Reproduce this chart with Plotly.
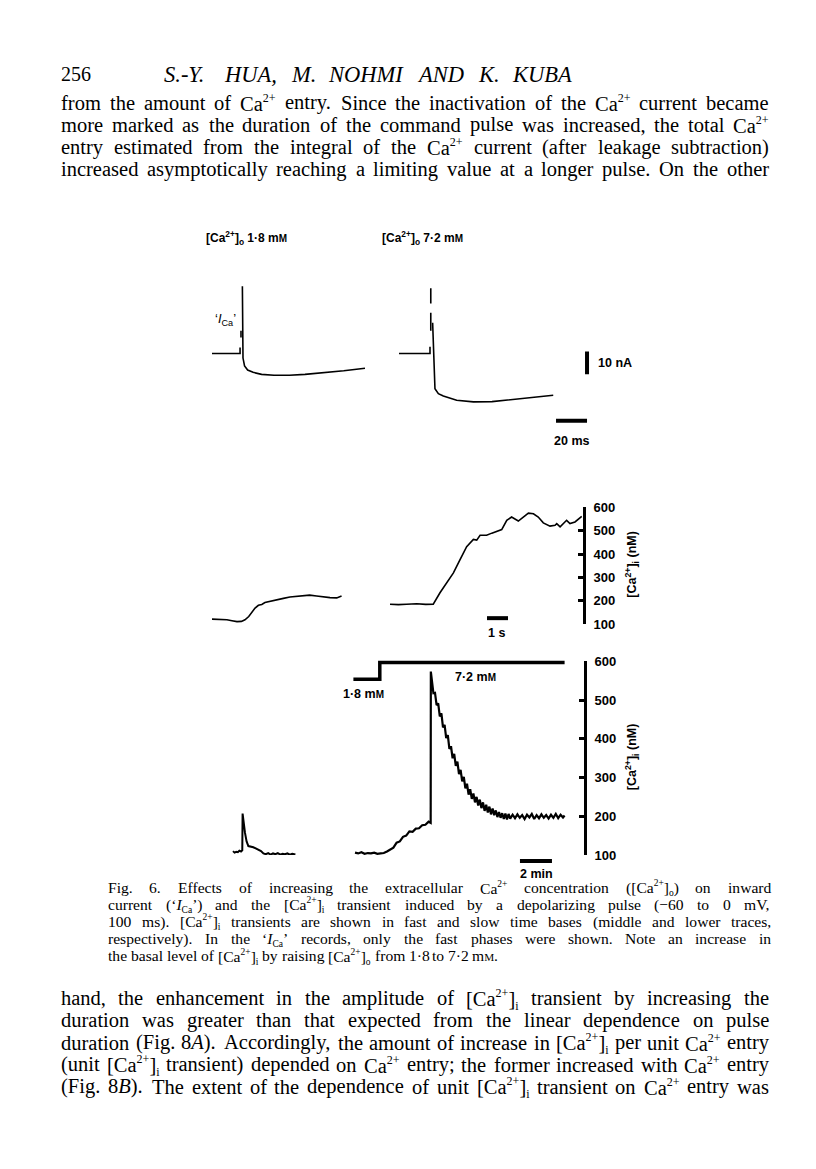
import plotly.graph_objects as go

W, H = 816, 1169
SERIF = "Liberation Serif"
SANS = "Liberation Sans"

# ---------------- data ----------------
# top row: 'I_Ca' fast records, time (ms) vs current (nA); None = pen lift
ica_low_t = [0, 18.1, 18.1, None, 18.7, 18.7, None, 19.6, 19.7, 20.0, 21.0, 23.0, 26.5, 32, 40, 50, 60, 72, 85, 98.7]
ica_low_v = [0, 0, 2.6, None, 7, 10, None, 29.6, 10, -2, -5.5, -7.3, -8.3, -9.2, -9.6, -9.6, -9.2, -8.5, -7.6, -6.5]
ica_high_t = [0, 20.0, 20.0, None, 20.5, 20.5, None, 20.5, 20.5, None, 21.7, 23.2, 25.4, 28.6, 37.2, 48, 60, 69.5, 80.2, 99.5]
ica_high_v = [0, 0, 3, None, 28.7, 22, None, 18, 10, None, 13.5, -15.5, -17.7, -18.7, -20.6, -21.3, -21.2, -20.6, -19.9, -18.4]

# middle row: [Ca2+]i on the fast time base, time (s) vs nM
fast_low_t = [0, 0.35, 0.71, 0.95, 1.19, 1.4, 1.57, 1.75, 1.9, 2.05, 2.21, 2.37, 2.52, 2.8, 3.08, 3.4,
              3.71, 4.0, 4.35, 4.65, 4.98, 5.3, 5.62, 5.94, 6.17]
fast_low_v = [121, 120, 118, 114, 110, 111, 118, 132, 149, 168, 180, 184, 192, 198, 206, 210,
              216, 219, 223, 224, 220, 216, 213, 212, 220]
fast_high_t = [0, 0.4, 0.79, 1.27, 1.7, 2.06, 2.38, 2.7, 3.02, 3.33, 3.65, 3.97, 4.13, 4.29, 4.6, 4.85,
               5.08, 5.32, 5.56, 5.79, 6.11, 6.35, 6.59, 6.83, 7.06, 7.3, 7.62, 7.86, 7.94, 8.1, 8.41,
               8.57, 8.81, 9.13]
fast_high_v = [185, 183, 185, 187, 184, 185, 234, 277, 319, 375, 432, 463, 460, 481, 481, 490,
               499, 505, 545, 559, 542, 559, 576, 573, 559, 534, 520, 524, 531, 517, 545,
               531, 538, 562]

# bottom row: [Ca2+]i on the slow time base, time (min) vs nM
slow_low_t = [0, 0.1, 0.2, 0.3, 0.4, 0.5, 0.58, 0.6, 0.75, 0.85, 0.96, 1.1, 1.27, 1.42, 1.58, 1.75,
              1.9, 2.05, 2.2, 2.35, 2.5, 2.65, 2.8, 2.95, 3.1, 3.25, 3.4, 3.55, 3.7, 3.9]
slow_low_v = [110, 106, 108, 107, 111, 109, 112, 207, 157, 135, 123, 122, 120, 117, 114, 110,
              104, 102, 105, 101, 104, 102, 105, 101, 103, 102, 104, 101, 103, 101]
slow_high_t = [0.0, 0.2, 0.4, 0.6, 0.8, 1.0, 1.2, 1.4, 1.6, 1.8,
               2.0, 2.2, 2.4, 2.6, 2.8, 3.0, 3.2, 3.4, 3.6, 3.8, 4.0, 4.2, 4.4, 4.6, 4.73,
               4.74, 4.8, 4.9, 5.0, 5.1, 5.2, 5.3, 5.4, 5.5, 5.6, 5.7, 5.8, 5.9, 6.0, 6.1, 6.2,
               6.3, 6.4, 6.5, 6.6, 6.7, 6.8, 6.9, 7.0, 7.1, 7.2, 7.3, 7.4, 7.5, 7.6, 7.7, 7.8,
               7.9, 8.0, 8.1, 8.2, 8.3, 8.4, 8.5, 8.6, 8.7, 8.8, 8.9, 9.0, 9.1, 9.2, 9.3, 9.4,
               9.5, 9.6, 9.7, 9.85, 10.0, 10.15, 10.3, 10.45, 10.6, 10.75, 10.9, 11.05, 11.2,
               11.35, 11.5, 11.65, 11.8, 11.95, 12.1, 12.25, 12.4, 12.55, 12.7, 12.85, 13.0, 13.1]
slow_high_v = [106, 104, 107, 103, 105, 104, 106, 103, 104, 105,
               109, 115, 119, 132, 135, 147, 150, 161, 160, 168, 169, 177, 178, 186, 183,
               574, 551, 518, 519, 487, 492, 458, 466, 430, 436, 402, 410, 374, 381, 350, 361,
               330, 341, 309, 320, 290, 302, 272, 284, 256, 270, 245, 259, 236, 250, 228, 243,
               221, 236, 214, 230, 210, 225, 205, 220, 203, 215, 198, 211, 196, 208, 193, 207,
               192, 206, 194, 204, 195, 205, 196, 203, 193, 204, 197, 206, 193,
               203, 195, 205, 196, 203, 194, 204, 196, 206, 195, 204, 197, 202]

# bath solution change (min, mM)
conc_t = [-0.1, 1.55, 1.55, 13.1]
conc_mM = [1.8, 1.8, 7.2, 7.2]

nm_ticks = [100, 200, 300, 400, 500, 600]
bar_ms, bar_nA, bar_s, bar_min = 20, 10, 1, 2

header_num = "256"
header_title = "<i>S.-Y. HUA, M. NOHMI AND K. KUBA</i>"
para1 = [
    "from the amount of Ca<sup>2+</sup> entry. Since the inactivation of the Ca<sup>2+</sup> current became",
    "more marked as the duration of the command pulse was increased, the total Ca<sup>2+</sup>",
    "entry estimated from the integral of the Ca<sup>2+</sup> current (after leakage subtraction)",
    "increased asymptotically reaching a limiting value at a longer pulse. On the other",
]
# ᴍ = small-capital M of the printed "mM"
caption = [
    "Fig. 6. Effects of increasing the extracellular Ca<sup>2+</sup> concentration ([Ca<sup>2+</sup>]<sub>o</sub>) on inward",
    "current (‘<i>I</i><sub>Ca</sub>’) and the [Ca<sup>2+</sup>]<sub>i</sub> transient induced by a depolarizing pulse (−60 to 0 mV,",
    "100 ms). [Ca<sup>2+</sup>]<sub>i</sub> transients are shown in fast and slow time bases (middle and lower traces,",
    "respectively). In the ‘<i>I</i><sub>Ca</sub>’ records, only the fast phases were shown. Note an increase in",
    "the basal level of [Ca<sup>2+</sup>]<sub>i</sub> by raising [Ca<sup>2+</sup>]<sub>o</sub> from 1·8 to 7·2 mᴍ.",
]
para2 = [
    "hand, the enhancement in the amplitude of [Ca<sup>2+</sup>]<sub>i</sub> transient by increasing the",
    "duration was greater than that expected from the linear dependence on pulse",
    "duration (Fig. 8<i>A</i>). Accordingly, the amount of increase in [Ca<sup>2+</sup>]<sub>i</sub> per unit Ca<sup>2+</sup> entry",
    "(unit [Ca<sup>2+</sup>]<sub>i</sub> transient) depended on Ca<sup>2+</sup> entry; the former increased with Ca<sup>2+</sup> entry",
    "(Fig. 8<i>B</i>). The extent of the dependence of unit [Ca<sup>2+</sup>]<sub>i</sub> transient on Ca<sup>2+</sup> entry was",
]

# Times/Liberation Serif advance widths (1/1000 em), used to justify the text lines
TIMES = dict(zip("abcdefghijklmnopqrstuvwxyz",
                 [444, 500, 444, 500, 444, 333, 500, 500, 278, 278, 500, 278, 778, 500, 500, 500,
                  500, 333, 389, 278, 500, 500, 722, 500, 500, 444]))
TIMES.update(zip("ABCDEFGHIJKLMNOPQRSTUVWXYZ",
                 [722, 667, 667, 722, 611, 556, 722, 722, 333, 389, 722, 611, 889, 722, 722, 556,
                  722, 667, 556, 611, 722, 722, 944, 722, 722, 611]))
TIMES.update({c: 500 for c in "0123456789"})
TIMES.update({" ": 250, ".": 250, ",": 250, ";": 278, ":": 278, "(": 333, ")": 333, "[": 333,
              "]": 333, "+": 564, "-": 333, "−": 564, "·": 250, "‘": 333, "’": 333, "ᴍ": 640})


def text_width(s, size, small):
    w, scale, i = 0.0, 1.0, 0
    while i < len(s):
        if s.startswith("<sup>", i) or s.startswith("<sub>", i):
            scale, i = small / size, i + 5
        elif s.startswith("</sup>", i) or s.startswith("</sub>", i):
            scale, i = 1.0, i + 6
        elif s.startswith("<i>", i):
            i += 3
        elif s.startswith("</i>", i):
            i += 4
        else:
            w += TIMES.get(s[i], 500) * scale
            i += 1
    return w * size / 1000


def small_scripts(s, size, small):
    # shrink super/subscripts the way the printed page does
    for tag in ("sup", "sub"):
        s = s.replace("<%s>" % tag, "<%s><span style='font-size:%spx'>" % (tag, small))
        s = s.replace("</%s>" % tag, "</span></%s>" % tag)
    return s.replace("ᴍ", "<span style='font-size:%spx'>M</span>" % round(size * 0.72, 1))


def note(x, y, text, size=12, family=SANS, xanchor="left", angle=0, yshift=0, weight="normal"):
    return dict(x=x / W, y=1 - y / H, xref="paper", yref="paper", text=text, showarrow=False,
                xanchor=xanchor, yanchor="middle", textangle=angle, yshift=yshift,
                borderpad=0, font=dict(family=family, size=size, color="black", weight=weight))


def label(x, y, text, xanchor="left", angle=0, size=12.5):
    return note(x, y, text, size, SANS, xanchor, angle, weight="bold")


anns = []


def justify(lines, left, right, y0, step, size, small, ragged_last=False):
    for k, ln in enumerate(lines):
        y = y0 + k * step
        opened = ln.startswith("<i>")
        words = ln.replace("<i>", "").replace("</i>", "").split(" ") if opened else ln.split(" ")
        widths = [text_width(w, size, small) for w in words]
        if ragged_last and k == len(lines) - 1:
            gap = 0.25 * size
        else:
            gap = (right - left - sum(widths)) / (len(words) - 1)
        x = left
        for w, ww in zip(words, widths):
            # keep baselines level: a subscript deepens the annotation box
            shift = -0.05 * size if "<sub>" in w else 0
            txt = small_scripts(w, size, small)
            anns.append(note(x, y, "<i>" + txt + "</i>" if opened else txt, size, SERIF, yshift=shift))
            x += ww + gap


def dom_x(a, b):
    return [a / W, b / W]


def dom_y(top, bottom):
    return [1 - bottom / H, 1 - top / H]


def span(a, b, origin, scale):
    return [(a - origin) / scale, (b - origin) / scale]


fig = go.Figure()
trace = dict(mode="lines", line=dict(color="black", width=1.6), hoverinfo="skip", showlegend=False)
bar = dict(mode="lines", line=dict(color="black", width=4), hoverinfo="skip", showlegend=False)

# top row
fig.add_trace(go.Scatter(x=ica_low_t, y=ica_low_v, xaxis="x", yaxis="y", **trace))
fig.add_trace(go.Scatter(x=ica_high_t, y=ica_high_v, xaxis="x2", yaxis="y", **trace))
fig.add_trace(go.Scatter(x=[101.3, 101.3 + bar_ms], y=[-29.6, -29.6], xaxis="x2", yaxis="y", **bar))
fig.add_trace(go.Scatter(x=[121.3, 121.3], y=[0.9, 0.9 - bar_nA], xaxis="x2", yaxis="y", **bar))

# middle row
fig.add_trace(go.Scatter(x=fast_low_t, y=fast_low_v, xaxis="x3", yaxis="y2", **trace))
fig.add_trace(go.Scatter(x=fast_high_t, y=fast_high_v, xaxis="x4", yaxis="y2", **trace))
fig.add_trace(go.Scatter(x=[4.62, 4.62 + bar_s], y=[125, 125], xaxis="x4", yaxis="y2", **bar))

# bottom row
fig.add_trace(go.Scatter(x=slow_low_t, y=slow_low_v, xaxis="x5", yaxis="y3",
                         mode="lines", line=dict(color="black", width=2), hoverinfo="skip", showlegend=False))
fig.add_trace(go.Scatter(x=slow_high_t, y=slow_high_v, xaxis="x6", yaxis="y3",
                         mode="lines", line=dict(color="black", width=2.2), hoverinfo="skip", showlegend=False))
fig.add_trace(go.Scatter(x=[10.31, 10.31 + bar_min], y=[84.7, 84.7], xaxis="x6", yaxis="y4", **bar))
fig.add_trace(go.Scatter(x=conc_t, y=conc_mM, xaxis="x6", yaxis="y5",
                         mode="lines", line=dict(color="black", width=3.5), hoverinfo="skip", showlegend=False))

hidden = dict(visible=False, fixedrange=True)
nm_axis = dict(range=[100, 600], anchor="free", side="right", showline=True, linecolor="black",
               linewidth=3, ticks="inside", ticklen=5, tickwidth=2.5, tickcolor="black",
               tickvals=nm_ticks, ticklabelstandoff=5, showgrid=False, zeroline=False,
               tickfont=dict(family=SANS, size=13, color="black", weight="bold"), fixedrange=True)

fig.update_layout(
    width=W, height=H,
    margin=dict(l=0, r=0, t=0, b=0),
    paper_bgcolor="white", plot_bgcolor="rgba(0,0,0,0)",
    showlegend=False,
    xaxis=dict(domain=dom_x(200, 380), range=span(200, 380, 212, 1.55), anchor="y", **hidden),
    xaxis2=dict(domain=dom_x(390, 600), range=span(390, 600, 399, 1.55), anchor="y", **hidden),
    yaxis=dict(domain=dom_y(270, 450), range=span(450, 270, 351, -2.3), anchor="x", **hidden),
    xaxis3=dict(domain=dom_x(205, 350), range=span(205, 350, 212, 21), anchor="y2", **hidden),
    xaxis4=dict(domain=dom_x(385, 590), range=span(385, 590, 390, 21), anchor="y2", **hidden),
    yaxis2=dict(domain=dom_y(507, 625), position=584 / W, **nm_axis),
    xaxis5=dict(domain=dom_x(225, 300), range=span(225, 300, 233, 16), anchor="y3", **hidden),
    xaxis6=dict(domain=dom_x(345, 590), range=span(345, 590, 355, 16), anchor="y3", **hidden),
    yaxis3=dict(domain=dom_y(663, 859), position=585 / W, **nm_axis),
    yaxis4=dict(domain=dom_y(640, 880), range=[100 + (859 - 880) / 0.392, 100 + (859 - 640) / 0.392],
                anchor="x6", **hidden),
    yaxis5=dict(domain=dom_y(640, 700), range=[1.8 - (700 - 681) / 3.148, 1.8 + (681 - 640) / 3.148],
                anchor="x6", **hidden),
)

# page text
anns.append(note(60, 68, header_num, 20, SERIF))
justify([header_title], 163, 575, 68, 0, 22.5, 12)
justify(para1, 60, 768, 97, 22.5, 20.5, 12)
justify(caption, 107, 770, 892, 17.3, 15.6, 9.5, ragged_last=True)
justify(para2, 60, 768, 1004, 22.5, 20.5, 12)

# figure labels
mM = "m<span style='font-size:10px'>M</span>"
anns.append(label(205, 234, "[Ca<sup>2+</sup>]<sub>o</sub> 1·8 " + mM, size=12))
anns.append(label(381, 234, "[Ca<sup>2+</sup>]<sub>o</sub> 7·2 " + mM, size=12))
anns.append(note(214, 317, "‘<i>I</i><sub>Ca</sub>’", 13, SANS))
anns.append(label(597, 361, "10 nA"))
anns.append(label(571, 440, "20 ms", "center"))
anns.append(label(497, 634, "1 s", "center"))
anns.append(label(363, 696, "1·8 " + mM, "center"))
anns.append(label(475, 679, "7·2 " + mM, "center"))
anns.append(label(536, 878, "2 min", "center"))
anns.append(label(632, 565, "[Ca<sup>2+</sup>]<sub>i</sub> (nM)", "center", -90, 12.5))
anns.append(label(632, 760, "[Ca<sup>2+</sup>]<sub>i</sub> (nM)", "center", -90, 12.5))

fig.update_layout(annotations=anns)

fig.write_html("out.html", config={"displayModeBar": False},
               post_script="document.body.style.margin='0px';")
